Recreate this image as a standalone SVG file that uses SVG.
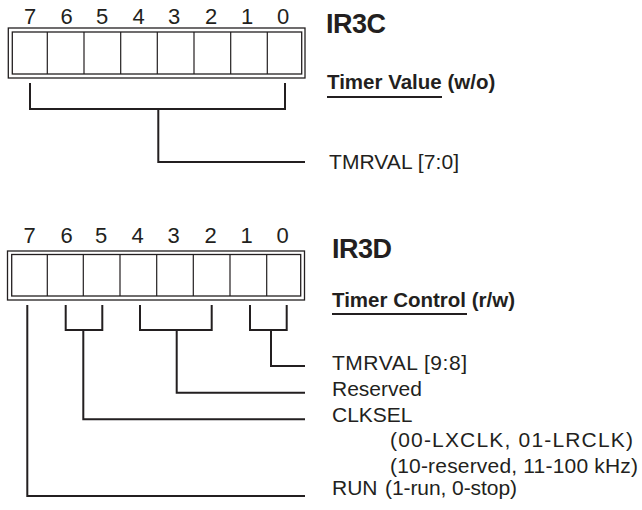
<svg xmlns="http://www.w3.org/2000/svg" width="642" height="510" viewBox="0 0 642 510">
<style>
text{font-family:"Liberation Sans",Arial,sans-serif;fill:#231f20}
.d{font-size:22px;text-anchor:middle}
.t{font-size:27px;font-weight:bold}
.s{font-size:20.5px;font-weight:bold}
.l{font-size:21px}
.box{fill:none;stroke:#231f20;stroke-width:1.3}
.div{stroke:#231f20;stroke-width:1.2}
.c{fill:none;stroke:#231f20;stroke-width:2}
.u{stroke:#231f20;stroke-width:2}
</style>
<rect width="642" height="510" fill="#fff"/>
<g id="reg-IR3C">
<rect class="box" x="8.3" y="28" width="296.7" height="50"/>
<rect class="box" x="12.3" y="32" width="289.4" height="42"/>
<path class="div" d="M47.3,32V74M84,32V74M120.7,32V74M157.3,32V74M194,32V74M230.7,32V74M267.3,32V74"/>
<text class="d" x="30" y="23.5">7</text><text class="d" x="66.7" y="23.5">6</text><text class="d" x="102" y="23.5">5</text><text class="d" x="138.5" y="23.5">4</text><text class="d" x="174" y="23.5">3</text><text class="d" x="211" y="23.5">2</text><text class="d" x="247" y="23.5">1</text><text class="d" x="283" y="23.5">0</text>
<text class="t" x="326" y="32.5" textLength="60">IR3C</text>
<text class="s" x="327" y="88.5">Timer Value (w/o)</text>
<line class="u" x1="327" y1="97" x2="442" y2="97"/>
</g>
<g id="reg-IR3D">
<rect class="box" x="7.5" y="251" width="297" height="49"/>
<rect class="box" x="11.7" y="254.5" width="289" height="41.5"/>
<path class="div" d="M47.3,254.5V296M83.3,254.5V296M120,254.5V296M156.7,254.5V296M193.3,254.5V296M230,254.5V296M266.7,254.5V296"/>
<text class="d" x="29.5" y="243">7</text><text class="d" x="66.5" y="243">6</text><text class="d" x="101" y="243">5</text><text class="d" x="137.5" y="243">4</text><text class="d" x="173.5" y="243">3</text><text class="d" x="210.5" y="243">2</text><text class="d" x="246.5" y="243">1</text><text class="d" x="282.5" y="243">0</text>
<text class="t" x="332" y="257.5" textLength="60">IR3D</text>
<text class="s" x="332" y="307">Timer Control (r/w)</text>
<line class="u" x1="332" y1="314" x2="467" y2="314"/>
</g>
<g id="labels">
<text class="l" x="329" y="168.5" textLength="130">TMRVAL [7:0]</text>
<text class="l" x="332" y="369.5" textLength="135">TMRVAL [9:8]</text>
<text class="l" x="332" y="395.5">Reserved</text>
<text class="l" x="332" y="421.5">CLKSEL</text>
<text class="l" x="390" y="447" textLength="243">(00-LXCLK, 01-LRCLK)</text>
<text class="l" x="390" y="472.5" textLength="248">(10-reserved, 11-100 kHz)</text>
<text class="l" x="332" y="494.5">RUN</text>
<text class="l" x="385" y="494.5" textLength="132">(1-run, 0-stop)</text>
</g>
<g id="connectors">
<path class="c" d="M30,83V109H285V83M158.3,109V162H305"/>
<path class="c" d="M27.3,305V496H305"/>
<path class="c" d="M65.7,305V330H102.3V305M83.3,330V419.3H305"/>
<path class="c" d="M140,305V330H211.7V305M176.7,330V392.7H305"/>
<path class="c" d="M250,305V330H286.7V305M271,330V366H305"/>
</g>
</svg>
